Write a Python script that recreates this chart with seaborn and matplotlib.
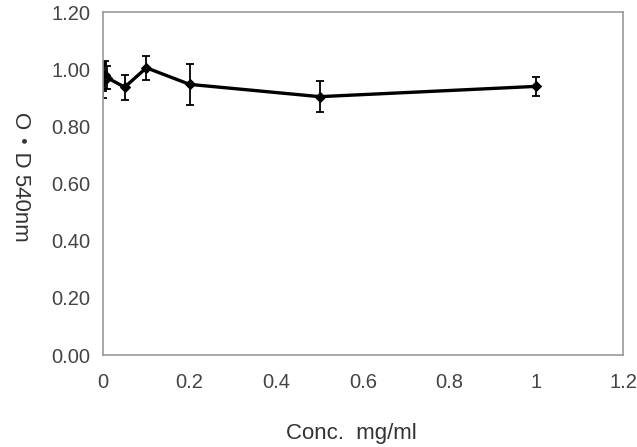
import matplotlib
matplotlib.use("Agg")
import matplotlib.pyplot as plt
import seaborn as sns
import pandas as pd

conc = [0, 0.001, 0.005, 0.01, 0.05, 0.1, 0.2, 0.5, 1.0]
od = [0.96, 0.975, 0.98, 0.97, 0.937, 1.005, 0.947, 0.904, 0.94]
err = [0.06, 0.05, 0.05, 0.04, 0.044, 0.043, 0.072, 0.054, 0.033]

xticks = [0, 0.2, 0.4, 0.6, 0.8, 1, 1.2]
xticklabels = ["0", "0.2", "0.4", "0.6", "0.8", "1", "1.2"]
yticks = [0.0, 0.2, 0.4, 0.6, 0.8, 1.0, 1.2]
yticklabels = ["0.00", "0.20", "0.40", "0.60", "0.80", "1.00", "1.20"]

sns.set_style("white")
plt.rcParams['font.family'] = ['Liberation Sans', 'Noto Sans CJK KR', 'DejaVu Sans']

fig = plt.figure(figsize=(6.37, 4.47), dpi=100)
ax = fig.add_axes([0.1617, 0.2058, 0.8163, 0.7672])

df = pd.DataFrame({"conc": conc, "od": od})
ax.errorbar(conc, od, yerr=err, fmt="none", ecolor="black", elinewidth=1.3, capsize=3, capthick=1.3)
sns.lineplot(data=df, x="conc", y="od", ax=ax, color="black", linewidth=2.4,
             marker="D", markersize=5, markeredgecolor="black", sort=False)

ax.set_xlim(0, 1.2)
ax.set_ylim(0, 1.2)
ax.set_xticks(xticks)
ax.set_xticklabels(xticklabels)
ax.set_yticks(yticks)
ax.set_yticklabels(yticklabels)
ax.tick_params(axis="both", labelsize=14.5, labelcolor="#444444")
ax.tick_params(axis="y", length=0, pad=9)
ax.tick_params(axis="x", direction="in", length=3, color="#cccccc", pad=13)
for s in ax.spines.values():
    s.set_color("#999999")
    s.set_linewidth(1.2)

ax.set_xlabel("Conc.  mg/ml", fontsize=16, color="#333333")
ax.xaxis.set_label_coords(0.477, -0.198)
ax.set_ylabel("O・D 540nm", fontsize=16, color="#333333", rotation=-90)
ax.yaxis.set_label_coords(-0.178, 0.52)

fig.savefig("out.png", dpi=100)
